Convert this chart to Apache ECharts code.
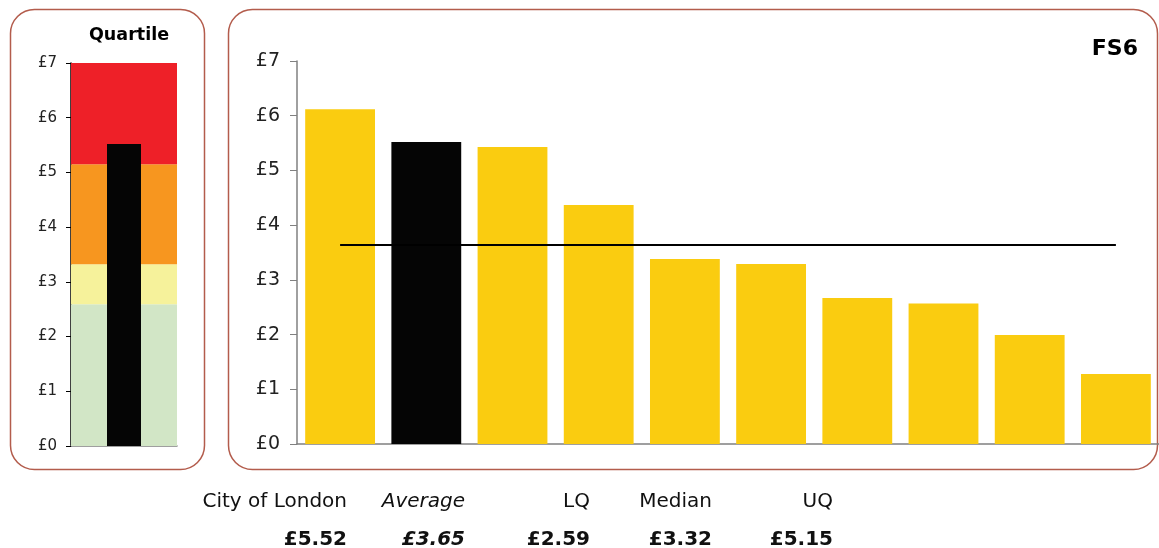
<!DOCTYPE html>
<html>
<head>
<meta charset="utf-8">
<script src="https://cdn.jsdelivr.net/npm/echarts@6/dist/echarts.min.js"></script>
<style>
  html, body { margin: 0; padding: 0; background: #ffffff; }
  #chart { width: 1159px; height: 548px; }
</style>
</head>
<body>
<div id="chart"></div>
<script>
// FS6 unit cost comparison: quartile gauge (left) and authority bars (right)
const authorities = ['Authority A', 'City of London', 'Authority C', 'Authority D', 'Authority E',
                     'Authority F', 'Authority G', 'Authority H', 'Authority I', 'Authority J'];
const costs = [6.12, 5.52, 5.43, 4.37, 3.38, 3.29, 2.67, 2.57, 1.99, 1.28];
const highlightIndex = 1;          // City of London
const average = 3.65;
const lowerQuartile = 2.59;
const median = 3.32;
const upperQuartile = 5.15;
const axisMax = 7;

const summaryLabels = ['City of London', 'Average', 'LQ', 'Median', 'UQ'];
const summaryValues = [costs[highlightIndex], average, lowerQuartile, median, upperQuartile];
const summaryItalic = [false, true, false, false, false];

const FONT = '"DejaVu Sans", Verdana, sans-serif';
const money = v => '£' + v;

const chart = echarts.init(document.getElementById('chart'), null, { renderer: 'canvas' });

// bottom summary text, right-aligned columns
const colRight = [347, 465, 590, 712, 833];
const summaryGraphics = [];
summaryLabels.forEach((lab, i) => {
  summaryGraphics.push({
    type: 'text', x: colRight[i], y: 502, z: 10,
    style: { text: lab, fill: '#111', font: (summaryItalic[i] ? 'italic ' : '') + '20px ' + FONT,
             align: 'right', verticalAlign: 'middle' }
  });
  summaryGraphics.push({
    type: 'text', x: colRight[i], y: 540, z: 10,
    style: { text: '£' + summaryValues[i].toFixed(2), fill: '#111',
             font: (summaryItalic[i] ? 'italic ' : '') + 'bold 20px ' + FONT,
             align: 'right', verticalAlign: 'middle' }
  });
});

const bandColors = ['#d2e6c6', '#f6f29b', '#f7961f', '#ee2028'];
const bandEdges = [0, lowerQuartile, median, upperQuartile, axisMax];

const option = {
  backgroundColor: '#ffffff',
  animation: false,
  textStyle: { fontFamily: FONT },
  graphic: [
    { type: 'rect', z: -10, shape: { x: 10.5, y: 9.5, width: 194, height: 460, r: 24 },
      style: { fill: '#ffffff', stroke: '#b35c4c', lineWidth: 1.5 } },
    { type: 'rect', z: -10, shape: { x: 228.5, y: 9.5, width: 929, height: 460, r: 24 },
      style: { fill: '#ffffff', stroke: '#b35c4c', lineWidth: 1.5 } },
    { type: 'text', x: 129, y: 35, style: { text: 'Quartile', font: 'bold 17.5px ' + FONT, fill: '#000',
      align: 'center', verticalAlign: 'middle' } },
    { type: 'text', x: 1138, y: 49, style: { text: 'FS6', font: 'bold 22px ' + FONT, fill: '#000',
      align: 'right', verticalAlign: 'middle' } },
    ...summaryGraphics
  ],
  grid: [
    { left: 71, top: 63, width: 106, height: 383 },
    { left: 297, top: 61, width: 862, height: 383 }
  ],
  xAxis: [
    { type: 'category', gridIndex: 0, data: ['City of London'],
      axisLine: { lineStyle: { color: '#808080', width: 1.5 } },
      axisTick: { show: false }, axisLabel: { show: false } },
    { type: 'category', gridIndex: 1, data: authorities,
      axisLine: { lineStyle: { color: '#808080', width: 1.5 } },
      axisTick: { show: false }, axisLabel: { show: false } }
  ],
  yAxis: [
    { type: 'value', gridIndex: 0, min: 0, max: axisMax, interval: 1,
      axisLine: { show: true, lineStyle: { color: '#000', width: 1.5 } },
      axisTick: { show: true, length: 5, lineStyle: { color: '#000' } },
      axisLabel: { formatter: money, fontSize: 15, color: '#222', margin: 14, fontFamily: FONT },
      splitLine: { show: false } },
    { type: 'value', gridIndex: 1, min: 0, max: axisMax, interval: 1,
      axisLine: { show: true, lineStyle: { color: '#808080', width: 1.5 } },
      axisTick: { show: true, length: 7, lineStyle: { color: '#808080' } },
      axisLabel: { formatter: money, fontSize: 19, color: '#222', margin: 17, fontFamily: FONT },
      splitLine: { show: false } }
  ],
  series: [
    {
      // quartile gauge: bands from the quartiles, bar for City of London
      type: 'bar', xAxisIndex: 0, yAxisIndex: 0,
      data: [costs[highlightIndex]],
      barWidth: 34,
      itemStyle: { color: '#050505' },
      markArea: {
        silent: true,
        data: bandColors.map((c, i) => [
          { yAxis: bandEdges[i], itemStyle: { color: c, opacity: 1 } },
          { yAxis: bandEdges[i + 1] }
        ])
      },
      z: 3
    },
    {
      type: 'bar', xAxisIndex: 1, yAxisIndex: 1,
      barCategoryGap: '19%',
      data: costs.map((v, i) => ({
        value: v,
        itemStyle: { color: i === highlightIndex ? '#050505' : '#facc10' }
      })),
      markLine: {
        silent: true, symbol: 'none', label: { show: false },
        lineStyle: { color: '#000', width: 1.8, type: 'solid' },
        data: [[
          { coord: [authorities[0], average] },
          { coord: [authorities[authorities.length - 1], average] }
        ]]
      }
    }
  ]
};

chart.setOption(option);
</script>
</body>
</html>
